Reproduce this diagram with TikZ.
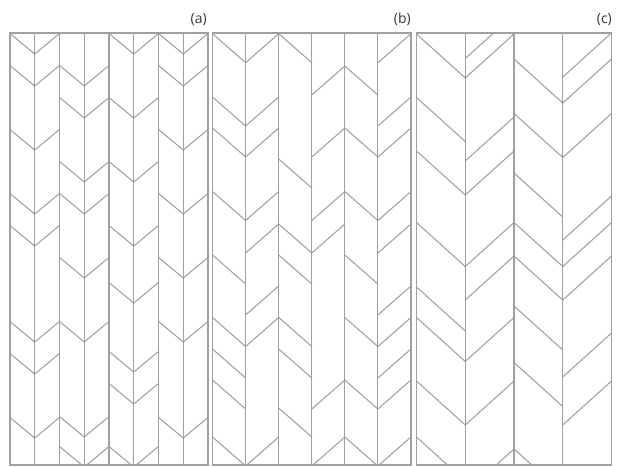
\documentclass[tikz,border=0pt]{standalone}
\usepackage{fontspec}
\setmainfont{Open Sans}
\begin{document}
\begin{tikzpicture}[x=1pt,y=-1pt]
\definecolor{ln}{RGB}{160,160,160}
\definecolor{tx}{RGB}{55,55,55}
\tikzset{
  board/.style={draw=ln,line width=1.05pt,line cap=round,line join=miter},
  frame/.style={draw=ln,line width=1.05pt},
  lab/.style={font=\fontsize{14}{16}\selectfont,text=tx,anchor=east,inner sep=0pt}
}
\useasboundingbox[fill=white] (0,0) rectangle (623,466);

% ---------- panel (a) ----------
\begin{scope}
\clip (10,33) rectangle (208,465);
\foreach \L/\ys in {10/{54,86,150,214,246,342,374,438},
                    59.5/{86,118,182,214,278,342,437,467},
                    109/{54,118,182,246,303,372,404,467},
                    158.5/{54,86,150,214,278,342,438}}{
  \foreach \y in \ys {
    \draw[board] (\L,\y-20.5) -- (\L+24.75,\y) -- (\L+49.5,\y-20.5);
  }
}
\foreach \i in {1,...,7}{
  \draw[board] (10+24.75*\i,33) -- (10+24.75*\i,465);
}
\end{scope}
\draw[frame] (10,33) rectangle (208,465);

% ---------- panel (b) ----------
\begin{scope}
\clip (212.5,33) rectangle (411,465);
% left arms
\foreach \L/\ys in {212.5/{62.7,126,157,220.5,284,346.5,378,409,466},
                    278.7/{62.7,188,253,284,346.5,378,437},
                    344.8/{95,157,220.5,284,346.5,409,466}}{
  \foreach \y in \ys {
    \draw[board] (\L,\y-29) -- (\L+33.1,\y);
  }
}
% right arms
\foreach \L/\ys in {212.5/{62.7,126,157,220.5,253,315,346.5,466},
                    278.7/{95,157,220.5,253,409,466},
                    344.8/{62.7,126,157,220.5,253,315,346.5,378,409,466}}{
  \foreach \y in \ys {
    \draw[board] (\L+66.2,\y-29) -- (\L+33.1,\y);
  }
}
\foreach \i in {1,...,5}{
  \draw[board] (212.5+33.08*\i,33) -- (212.5+33.08*\i,465);
}
\end{scope}
\draw[frame] (212.5,33) rectangle (411,465);

% ---------- panel (c) ----------
\begin{scope}
\clip (416.5,33) rectangle (611.5,465);
% left arms
\foreach \L/\ys in {416.5/{78,141.5,195,266.5,331,361.5,425,481},
                    514/{103,157.5,217,266.5,300,350,406.5,493}}{
  \foreach \y in \ys {
    \draw[board] (\L,\y-44) -- (\L+48.75,\y);
  }
}
% right arms
\foreach \L/\ys in {416.5/{58.5,78,161,195,266.5,300,361.5,425,493},
                    514/{77,103,157.5,240,266.5,300,377,425}}{
  \foreach \y in \ys {
    \draw[board] (\L+97.5,\y-44) -- (\L+48.75,\y);
  }
}
\foreach \i in {1,2,3}{
  \draw[board] (416.5+48.75*\i,33) -- (416.5+48.75*\i,465);
}
\end{scope}
\draw[frame] (416.5,33) rectangle (611.5,465);

% ---------- labels ----------
\node[lab] (la) at (207,19.5) {(a)};
\node[lab] (lb) at (411,19.5) {(b)};
\node[lab] (lc) at (612,19.5) {(c)};
\end{tikzpicture}
\end{document}
